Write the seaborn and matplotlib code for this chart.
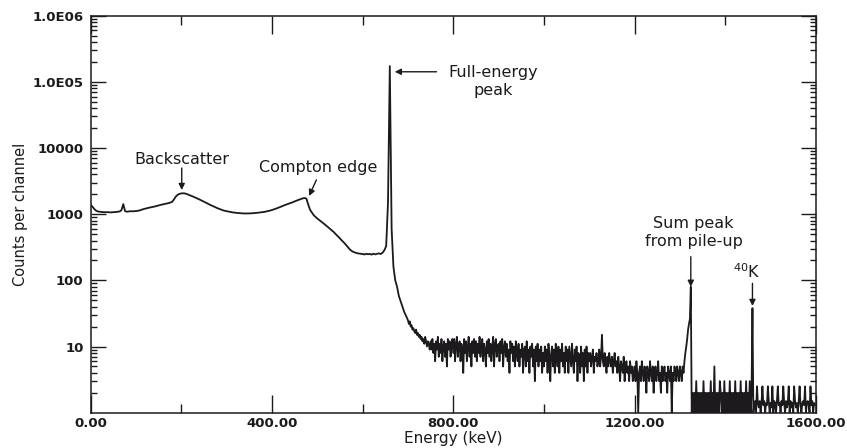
import numpy as np
import pandas as pd
import matplotlib
matplotlib.use("Agg")
import matplotlib.pyplot as plt
from matplotlib.ticker import FixedLocator, FixedFormatter, LogLocator, NullFormatter
import seaborn as sns

# Gamma-ray spectrum (137Cs source): 4 keV channels below 700 keV,
# 2 keV channels above it where the counts are low and noisy
energy_low = np.arange(0, 700, 4)
energy_high = np.arange(700, 1600, 2)

counts_low = [
    # 0 - 96 keV
    1380, 1300, 1200, 1130, 1100, 1090, 1080, 1075, 1070, 1075, 1070, 1065, 1070,
    1075, 1080, 1090, 1100, 1150, 1420, 1110, 1090, 1100, 1110, 1105, 1110,
    # 100 - 196 keV
    1115, 1125, 1140, 1165, 1190, 1210, 1230, 1250, 1265, 1280, 1300, 1320, 1345,
    1370, 1390, 1410, 1430, 1450, 1470, 1500, 1540, 1680, 1850, 1960, 2030,
    # 200 - 296 keV (backscatter)
    2060, 2070, 2060, 2020, 1970, 1920, 1870, 1820, 1770, 1720, 1670, 1620, 1570,
    1520, 1470, 1420, 1380, 1340, 1300, 1260, 1230, 1200, 1170, 1145, 1125,
    # 300 - 396 keV
    1110, 1095, 1080, 1068, 1058, 1050, 1043, 1037, 1032, 1028, 1026, 1025, 1026,
    1028, 1032, 1037, 1043, 1050, 1058, 1066, 1075, 1085, 1100, 1115, 1135,
    # 400 - 496 keV (Compton edge)
    1155, 1180, 1205, 1235, 1265, 1300, 1335, 1370, 1400, 1430, 1460, 1500, 1540,
    1580, 1620, 1660, 1700, 1735, 1755, 1720, 1400, 1170, 1060, 970, 910,
    # 500 - 596 keV
    860, 820, 780, 740, 705, 670, 635, 600, 570, 540, 505, 475, 445,
    415, 390, 365, 340, 315, 292, 278, 268, 262, 257, 254, 252,
    # 600 - 696 keV (full-energy peak at 662 keV)
    250, 246, 252, 248, 251, 245, 253, 247, 252, 256, 250, 262, 285,
    330, 1500, 173000, 600, 160, 100, 80, 58, 48, 40, 33, 29,
]

counts_high = [
    # 700 - 748 keV
    25, 22, 24, 20, 21, 18, 19, 17, 16, 18, 15, 16, 14, 15, 13, 14, 12, 13, 11, 14, 12, 10, 12, 11, 9,
    # 750 - 798 keV
    12, 9, 13, 8, 11, 6, 12, 9, 14, 7, 11, 8, 13, 6, 10, 12, 7, 11, 5, 13, 9, 12, 7, 10, 13,
    # 800 - 848 keV
    8, 13, 6, 11, 14, 7, 10, 12, 6, 11, 9, 4, 13, 8, 12, 6, 10, 14, 7, 11, 5, 12, 8, 13, 7,
    # 850 - 898 keV
    12, 6, 11, 8, 14, 7, 10, 13, 6, 11, 9, 5, 12, 8, 13, 7, 11, 6, 10, 14, 5, 11, 13, 7, 10,
    # 900 - 948 keV
    11, 6, 12, 8, 13, 5, 10, 12, 7, 11, 6, 9, 4, 12, 8, 11, 6, 10, 5, 12, 8, 6, 11, 5, 9,
    # 950 - 998 keV
    7, 11, 4, 9, 10, 5, 12, 6, 9, 4, 10, 7, 11, 5, 9, 3, 10, 6, 11, 5, 9, 6, 10, 4, 8,
    # 1000 - 1048 keV
    5, 10, 6, 9, 4, 11, 7, 3, 8, 10, 5, 9, 4, 11, 7, 5, 10, 4, 9, 6, 11, 5, 8, 4, 10,
    # 1050 - 1098 keV
    6, 9, 4, 10, 7, 5, 11, 6, 4, 9, 6, 10, 3, 8, 7, 4, 10, 5, 8, 3, 9, 5, 10, 4, 8,
    # 1100 - 1148 keV
    6, 8, 5, 7, 9, 4, 7, 6, 8, 5, 6, 9, 5, 7, 15, 6, 5, 8, 6, 4, 7, 5, 8, 6, 5,
    # 1150 - 1198 keV
    7, 4, 6, 8, 5, 6, 4, 7, 5, 3, 6, 5, 4, 7, 3, 5, 6, 4, 5, 3, 6, 4, 5, 3, 4,
    # 1200 - 1248 keV
    5, 3, 6, 4, 1, 4, 5, 3, 6, 4, 3, 5, 4, 2, 5, 4, 3, 6, 4, 3, 5, 2, 4, 5, 3,
    # 1250 - 1298 keV
    4, 6, 3, 4, 2, 5, 3, 4, 5, 3, 4, 2, 5, 4, 3, 5, 1, 4, 3, 5, 4, 3, 5, 4, 3,
    # 1300 - 1348 keV (sum peak from pile-up)
    5, 4, 3, 5, 4, 6, 8, 10, 13, 18, 22, 26, 80, 1, 2, 1, 2, 1, 3, 1, 2, 1, 2, 1, 2,
    # 1350 - 1398 keV
    1, 3, 1, 2, 1, 2, 1, 2, 1, 3, 1, 2, 1, 5, 1, 2, 1, 2, 1, 3, 2, 1, 2, 1, 3,
    # 1400 - 1448 keV
    1, 2, 1, 2, 1, 3, 1, 2, 1, 2, 1, 3, 1, 2, 1, 2, 1, 3, 1, 2, 1, 2, 1, 3, 1,
    # 1450 - 1498 keV (40K line)
    2, 1, 3, 1, 2, 38, 1, 1.3, 1.5, 1, 2.5, 1.4, 1.2, 1.5, 1, 1.4, 2.5, 1.3, 1.5, 1, 1.4, 1.3, 2.5, 1.5, 1,
    # 1500 - 1548 keV
    1.4, 1.2, 2.5, 1, 1.5, 1.4, 1, 1.5, 2.5, 1.3, 1.4, 1, 1.5, 1.3, 2.5, 1.4, 1, 1.5, 1.2, 1.4, 2.5, 1, 1.5, 1.2, 1.4,
    # 1550 - 1598 keV
    1, 2.5, 1.5, 1.2, 1.4, 1, 1.5, 2.5, 1.3, 1, 1.4, 1.5, 1.3, 2.5, 1, 1.4, 1.5, 1.3, 1, 2.5, 1.3, 1.5, 1, 1.4, 1.3,
]

x_ticks = [0, 400, 800, 1200, 1600]
x_tick_labels = ["0.00", "400.00", "800.00", "1200.00", "1600.00"]
x_minor_ticks = [200, 600, 1000, 1400]
y_ticks = [10, 100, 1000, 10000, 1e5, 1e6]
y_tick_labels = ["10", "100", "1000", "10000", "1.0E05", "1.0E06"]

spectrum = pd.DataFrame({
    "Energy (keV)": np.concatenate([energy_low, energy_high]),
    "Counts": counts_low + counts_high,
})

sns.set_style("ticks")
plt.rcParams["font.family"] = ["DejaVu Sans"]

ink = "#1c1a1c"

fig = plt.figure(figsize=(8.47, 4.48), dpi=100)
ax = fig.add_axes([0.107, 0.0788, 0.8563, 0.8862])

sns.lineplot(data=spectrum, x="Energy (keV)", y="Counts", ax=ax,
             estimator=None, sort=False, color=ink, linewidth=1.3)

ax.set_yscale("log", nonpositive="clip")
ax.set_xlim(0, 1600)
ax.set_ylim(1, 1e6)

ax.xaxis.set_major_locator(FixedLocator(x_ticks))
ax.xaxis.set_major_formatter(FixedFormatter(x_tick_labels))
ax.xaxis.set_minor_locator(FixedLocator(x_minor_ticks))
ax.yaxis.set_major_locator(FixedLocator(y_ticks))
ax.yaxis.set_major_formatter(FixedFormatter(y_tick_labels))
ax.yaxis.set_minor_locator(LogLocator(base=10, subs=np.arange(2, 10), numticks=20))
ax.yaxis.set_minor_formatter(NullFormatter())

ax.tick_params(axis="both", which="both", direction="in", top=True, right=True,
               colors=ink, width=1.0)
ax.tick_params(axis="x", which="major", length=13, pad=3, labelsize=9.5)
ax.tick_params(axis="x", which="minor", length=6.5)
ax.tick_params(axis="y", which="major", length=11, pad=5, labelsize=9.5)
ax.tick_params(axis="y", which="minor", length=4.5)
for lbl in ax.get_xticklabels() + ax.get_yticklabels():
    lbl.set_fontweight("bold")
    lbl.set_color(ink)

for side in ax.spines.values():
    side.set_color(ink)
    side.set_linewidth(1.1)

ax.set_xlabel("Energy (keV)", fontsize=11, color=ink, labelpad=1)
ax.set_ylabel("Counts per channel", fontsize=10.5, color=ink, labelpad=3)

arrow = dict(arrowstyle="-|>", color=ink, lw=1.0, mutation_scale=9,
             shrinkA=0, shrinkB=0)
text_kw = dict(fontsize=11.5, color=ink, ha="center", va="center")

ax.text(201, 6600, "Backscatter", **text_kw)
ax.annotate("", xy=(201, 2320), xytext=(201, 4990), arrowprops=arrow)

ax.text(503, 4990, "Compton edge", **text_kw)
ax.annotate("", xy=(482, 1884), xytext=(498, 3300), arrowprops=arrow)

ax.text(888, 1.0e5, "Full-energy\npeak", linespacing=1.25, **text_kw)
ax.annotate("", xy=(671, 142000), xytext=(763, 142000), arrowprops=arrow)

ax.text(1330, 529, "Sum peak\nfrom pile-up", linespacing=1.25, **text_kw)
ax.annotate("", xy=(1324, 80), xytext=(1324, 228), arrowprops=arrow)

ax.text(1448, 134, r"$^{40}$K", **text_kw)
ax.annotate("", xy=(1460, 41), xytext=(1460, 90), arrowprops=arrow)

fig.savefig("out.png", dpi=100, facecolor="white")
